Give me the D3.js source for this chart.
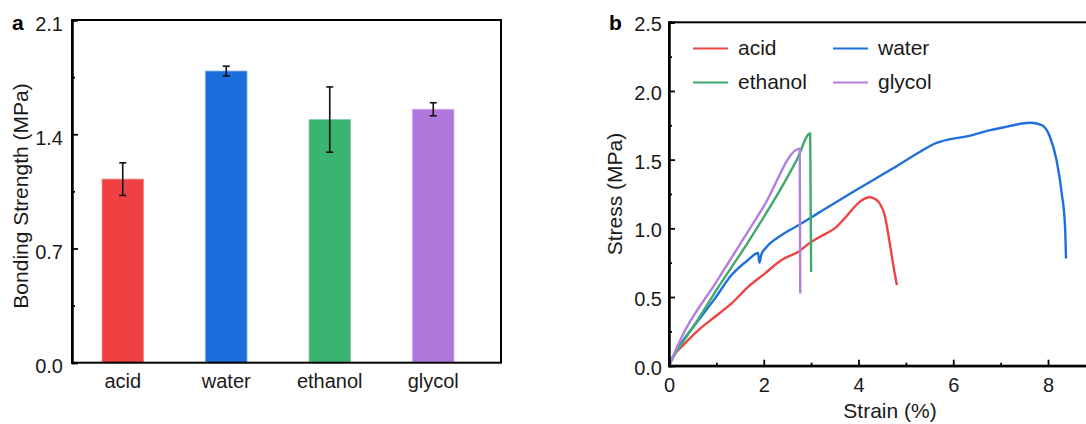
<!DOCTYPE html>
<html>
<head>
<meta charset="utf-8">
<script src="https://cdn.jsdelivr.net/npm/d3@7"></script>
<style>
  html, body { margin: 0; padding: 0; background: #fff; }
  svg { display: block; font-family: "Liberation Sans", Arial, sans-serif; }
</style>
</head>
<body>
<svg id="chart" width="1086" height="424"></svg>
<script>
// panel a: bonding strength
const categories = ["acid", "water", "ethanol", "glycol"];
const strengthMean = [1.125, 1.787, 1.49, 1.553];
const strengthErr = [0.1, 0.03, 0.2, 0.04];
const strengthTicks = [0, 0.7, 1.4, 2.1];
const strengthMinor = [0.35, 1.05, 1.75];
const barColors = ["#f04142", "#1b6fdc", "#3bb371", "#b077dc"];

// panel b: stress-strain curves [strain %, stress MPa]
const acidCurve = [[0, 0], [0.1, 0.075], [0.27, 0.138], [0.62, 0.259], [0.97, 0.356], [1.32, 0.453],
  [1.67, 0.574], [2.02, 0.67], [2.37, 0.768], [2.72, 0.828], [3.0, 0.9], [3.19, 0.939], [3.54, 1.012],
  [3.7, 1.07], [3.89, 1.146], [4.05, 1.2], [4.24, 1.226], [4.34, 1.215], [4.42, 1.194], [4.56, 1.085],
  [4.66, 0.891], [4.74, 0.72], [4.81, 0.587]];
const waterCurve = [[0, 0], [0.1, 0.075], [0.27, 0.17], [0.62, 0.33], [0.97, 0.49], [1.32, 0.66],
  [1.67, 0.77], [1.88, 0.82], [1.91, 0.75], [1.95, 0.81], [2.05, 0.86], [2.37, 0.949], [2.72, 1.02],
  [3.19, 1.12], [3.89, 1.267], [4.73, 1.437], [5.3, 1.558], [5.58, 1.612], [6.42, 1.68], [6.71, 1.709],
  [7.13, 1.74], [7.62, 1.769], [7.87, 1.752], [8.04, 1.667], [8.18, 1.497], [8.29, 1.255], [8.36, 1.012],
  [8.38, 0.78]];
const ethanolCurve = [[0, 0], [0.1, 0.07], [0.27, 0.16], [0.62, 0.34], [1.0, 0.55], [1.67, 0.9],
  [2.44, 1.336], [2.7, 1.5], [2.98, 1.69], [3.0, 0.683]];
const glycolCurve = [[0, 0], [0.1, 0.08], [0.27, 0.21], [1.0, 0.61], [2.0, 1.16], [2.76, 1.58], [2.77, 0.525]];
const curveNames = ["acid", "water", "ethanol", "glycol"];
const curveColors = ["#ee4444", "#1f70dc", "#3cab6b", "#b27fe0"];
const strainTicks = [0, 2, 4, 6, 8];
const strainMinor = [1, 3, 5, 7];
const stressTicks = [0, 0.5, 1.0, 1.5, 2.0, 2.5];
const stressMinor = [0.25, 0.75, 1.25, 1.75, 2.25];

const svg = d3.select("#chart");
const ink = "#1a1a1a";

// ---------- panel a ----------
const a = { left: 72, right: 501, top: 20, bottom: 362.7 };
const xA = d3.scaleBand().domain(categories).range([71, 485]);
const yA = d3.scaleLinear().domain([0, 2.1]).range([a.bottom, a.top]);
const barW = xA.bandwidth() * 0.4;

const gA = svg.append("g");
const bars = categories.map((c, i) => ({ c, v: strengthMean[i], e: strengthErr[i], col: barColors[i] }));

gA.selectAll("rect.bar").data(bars).enter().append("rect")
  .attr("class", "bar")
  .attr("x", d => xA(d.c) + xA.bandwidth() / 2 - barW / 2)
  .attr("y", d => yA(d.v))
  .attr("width", barW)
  .attr("height", d => yA(0) - yA(d.v))
  .attr("fill", d => d.col)
  .attr("stroke", d => d3.interpolateRgb(d.col, "#fff")(0.35))
  .attr("stroke-width", 0.8);

// error bars
const err = gA.selectAll("g.err").data(bars).enter().append("g")
  .attr("stroke", "#111").attr("stroke-width", 1.6);
err.append("line")
  .attr("x1", d => xA(d.c) + xA.bandwidth() / 2).attr("x2", d => xA(d.c) + xA.bandwidth() / 2)
  .attr("y1", d => yA(d.v + d.e)).attr("y2", d => yA(d.v - d.e));
err.each(function (d) {
  const cx = xA(d.c) + xA.bandwidth() / 2;
  [d.v + d.e, d.v - d.e].forEach(v => {
    d3.select(this).append("line")
      .attr("x1", cx - 3.5).attr("x2", cx + 3.5)
      .attr("y1", yA(v)).attr("y2", yA(v));
  });
});

// frame
gA.append("rect")
  .attr("x", a.left).attr("y", a.top)
  .attr("width", a.right - a.left).attr("height", a.bottom - a.top)
  .attr("fill", "none").attr("stroke", "#000").attr("stroke-width", 2);

// y axis (ticks inward)
gA.append("g").attr("class", "ylab").attr("transform", `translate(${a.left},0)`)
  .call(d3.axisLeft(yA).tickValues(strengthTicks).tickFormat(d3.format(".1f")).tickSize(-6).tickPadding(9));
gA.append("g").attr("transform", `translate(${a.left},0)`)
  .call(d3.axisLeft(yA).tickValues(strengthMinor).tickFormat("").tickSize(-3));

// category labels
gA.selectAll("text.cat").data(categories).enter().append("text")
  .attr("x", d => xA(d) + xA.bandwidth() / 2)
  .attr("y", a.bottom + 25)
  .attr("text-anchor", "middle")
  .attr("font-size", 20)
  .attr("fill", ink)
  .text(d => d);

gA.append("text")
  .attr("transform", `translate(28,196) rotate(-90)`)
  .attr("text-anchor", "middle")
  .attr("font-size", 21)
  .attr("fill", ink)
  .text("Bonding Strength (MPa)");

gA.append("text").attr("x", 12).attr("y", 29.5)
  .attr("font-size", 21).attr("font-weight", "bold").attr("fill", "#000").text("a");

// ---------- panel b ----------
const b = { left: 669, top: 22.3, bottom: 365.7 };
const xB = d3.scaleLinear().domain([0, 9]).range([b.left, b.left + 9 * 47.375]);
const yB = d3.scaleLinear().domain([0, 2.5]).range([b.bottom, b.top]);
const gB = svg.append("g");

const line = d3.line().x(d => xB(d[0])).y(d => yB(d[1])).curve(d3.curveMonotoneX);
const curves = [acidCurve, waterCurve, ethanolCurve, glycolCurve];
curves.forEach((c, i) => {
  gB.append("path")
    .attr("d", line(c))
    .attr("fill", "none")
    .attr("stroke", curveColors[i])
    .attr("stroke-width", 2.4)
    .attr("stroke-linejoin", "round")
    .attr("stroke-linecap", "butt");
});

// frame (right side runs past the picture edge)
gB.append("rect")
  .attr("x", b.left).attr("y", b.top)
  .attr("width", xB(9) - b.left).attr("height", b.bottom - b.top)
  .attr("fill", "none").attr("stroke", "#000").attr("stroke-width", 2);

gB.append("g").attr("class", "ylab").attr("transform", `translate(${b.left},0)`)
  .call(d3.axisLeft(yB).tickValues(stressTicks).tickFormat(d3.format(".1f")).tickSize(-6).tickPadding(7));
gB.append("g").attr("transform", `translate(${b.left},0)`)
  .call(d3.axisLeft(yB).tickValues(stressMinor).tickFormat("").tickSize(-3));
gB.append("g").attr("transform", `translate(0,${b.bottom})`)
  .call(d3.axisBottom(xB).tickValues(strainTicks).tickFormat(d3.format("d")).tickSize(-6).tickPadding(12));
gB.append("g").attr("transform", `translate(0,${b.bottom})`)
  .call(d3.axisBottom(xB).tickValues(strainMinor).tickFormat("").tickSize(-3));

gB.append("text")
  .attr("transform", `translate(622,194) rotate(-90)`)
  .attr("text-anchor", "middle")
  .attr("font-size", 21)
  .attr("fill", ink)
  .text("Stress (MPa)");

gB.append("text")
  .attr("x", 890).attr("y", 418)
  .attr("text-anchor", "middle")
  .attr("font-size", 21)
  .attr("fill", ink)
  .text("Strain (%)");

gB.append("text").attr("x", 609).attr("y", 29.5)
  .attr("font-size", 21).attr("font-weight", "bold").attr("fill", "#000").text("b");

// legend, 2 columns
const legend = gB.append("g");
curveNames.forEach((n, i) => {
  const col = i % 2, row = Math.floor(i / 2);
  const lx = 693 + col * 140, ly = 48.5 + row * 34;
  legend.append("line")
    .attr("x1", lx).attr("x2", lx + 35).attr("y1", ly).attr("y2", ly)
    .attr("stroke", curveColors[i]).attr("stroke-width", 2.2);
  legend.append("text")
    .attr("x", lx + 45).attr("y", ly + 6)
    .attr("font-size", 21).attr("fill", ink)
    .text(n);
});

// common axis styling
svg.selectAll(".domain").attr("stroke", "#000").attr("stroke-width", 2);
svg.selectAll(".tick line").attr("stroke", "#000").attr("stroke-width", 1.8);
svg.selectAll(".tick text")
  .attr("font-size", 20)
  .attr("fill", ink)
  .attr("font-family", "'Liberation Sans', Arial, sans-serif");
// vertical tick labels sit a little below their ticks
gA.selectAll(".ylab .tick text").attr("dy", "0.5em");
gB.selectAll(".ylab .tick text").attr("dy", "0.42em");
</script>
</body>
</html>
